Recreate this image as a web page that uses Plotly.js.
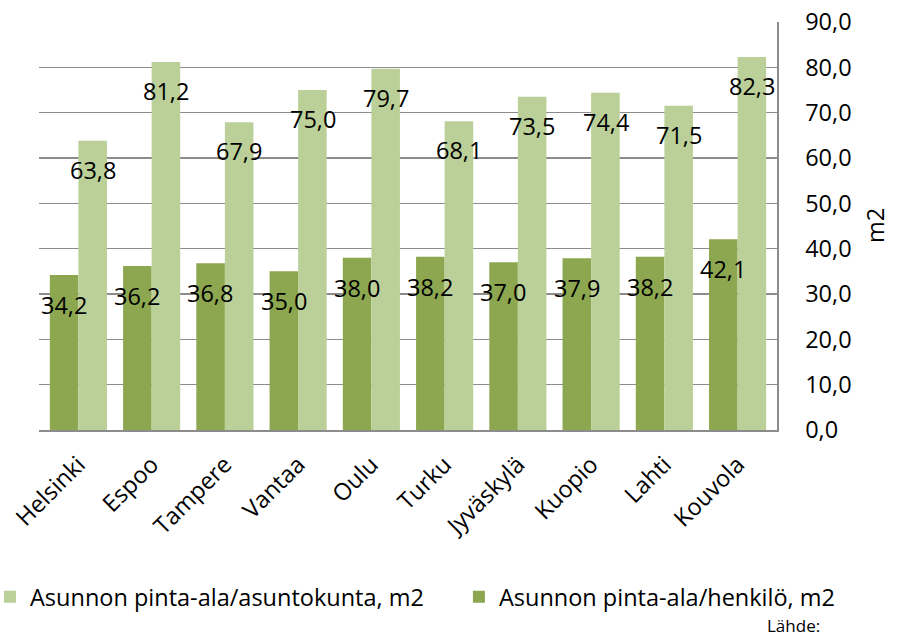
<!DOCTYPE html>
<html><head><meta charset="utf-8">
<script src="https://cdn.plot.ly/plotly-3.0.1.min.js"></script>
<style>html,body{margin:0;padding:0;background:#fff}#chart{width:901px;height:639px}</style>
</head><body><div id="chart"></div>
<script>
const categories = ["Helsinki","Espoo","Tampere","Vantaa","Oulu","Turku","Jyväskylä","Kuopio","Lahti","Kouvola"];
const perPerson = [34.2,36.2,36.8,35.0,38.0,38.2,37.0,37.9,38.2,42.1];
const perHousehold = [63.8,81.2,67.9,75.0,79.7,68.1,73.5,74.4,71.5,82.3];
const namePerson = "Asunnon pinta-ala/henkilö, m2";
const nameHousehold = "Asunnon pinta-ala/asuntokunta, m2";
const yTickVals = [0,10,20,30,40,50,60,70,80,90];
const yTickText = yTickVals.map(v => v.toFixed(1).replace('.', ','));

const FONT = "Open Sans, Noto Sans, sans-serif";
const FS = 23.5;
const fmt = v => v.toFixed(1).replace('.', ',');

const traces = [
  {type:'bar', name:namePerson, x:categories, y:perPerson, marker:{color:'#8CA74F'}, hoverinfo:'none', legend:'legend2'},
  {type:'bar', name:nameHousehold, x:categories, y:perHousehold, marker:{color:'#BBD098'}, hoverinfo:'none', legend:'legend'}
];

const annotations = [];
categories.forEach((c,i)=>{
  annotations.push({x:c, y:perPerson[i], xref:'x', yref:'y', text:fmt(perPerson[i]), showarrow:false,
    xshift:-14.4, yshift:-30, yanchor:'middle', font:{family:FONT, size:FS, color:'#000'}});
  annotations.push({x:c, y:perHousehold[i], xref:'x', yref:'y', text:fmt(perHousehold[i]), showarrow:false,
    xshift:14.4, yshift:-29, yanchor:'middle', font:{family:FONT, size:FS, color:'#000'}});
});
annotations.push({xref:'paper', yref:'paper', x:1.023, y:-0.511, text:'Lähde:', showarrow:false, xanchor:'center', yanchor:'bottom',
  font:{family:FONT, size:17, color:'#000'}, borderpad:0});
annotations.push({xref:'paper', yref:'paper', x:1.157, y:0.502, text:'m2', textangle:-90, showarrow:false,
  font:{family:FONT, size:FS, color:'#000'}});

const legendBase = {orientation:'h', xanchor:'left', y:-0.409, yanchor:'middle',
  font:{family:FONT, size:FS, color:'#000'}, itemwidth:30, bgcolor:'rgba(0,0,0,0)', tracegroupgap:0};

const layout = {
  width:901, height:639,
  margin:{l:39, r:124, t:22, b:209, autoexpand:false},
  paper_bgcolor:'#fff', plot_bgcolor:'#fff',
  barmode:'group', bargap:0.22, bargroupgap:0,
  showlegend:true,
  legend:Object.assign({}, legendBase, {x:-0.0664}),
  legend2:Object.assign({}, legendBase, {x:0.569}),
  font:{family:FONT, size:FS, color:'#000'},
  xaxis:{type:'category', tickangle:-45, showline:true, linecolor:'#8c8c8c', linewidth:1.5, ticks:'',
    ticklabelstandoff:10, tickfont:{family:FONT, size:FS, color:'#000'}, showgrid:false, automargin:false},
  yaxis:{side:'right', range:[0,90], tickvals:yTickVals, ticktext:yTickText, showgrid:true, gridcolor:'#8c8c8c', gridwidth:1.5,
    showline:true, linecolor:'#8c8c8c', linewidth:1.5, ticks:'', ticklabelstandoff:22, zeroline:false,
    tickfont:{family:FONT, size:FS, color:'#000'}, automargin:false, fixedrange:true},
  annotations:annotations
};
Plotly.newPlot('chart', traces, layout, {displayModeBar:false, staticPlot:true});
</script></body></html>
